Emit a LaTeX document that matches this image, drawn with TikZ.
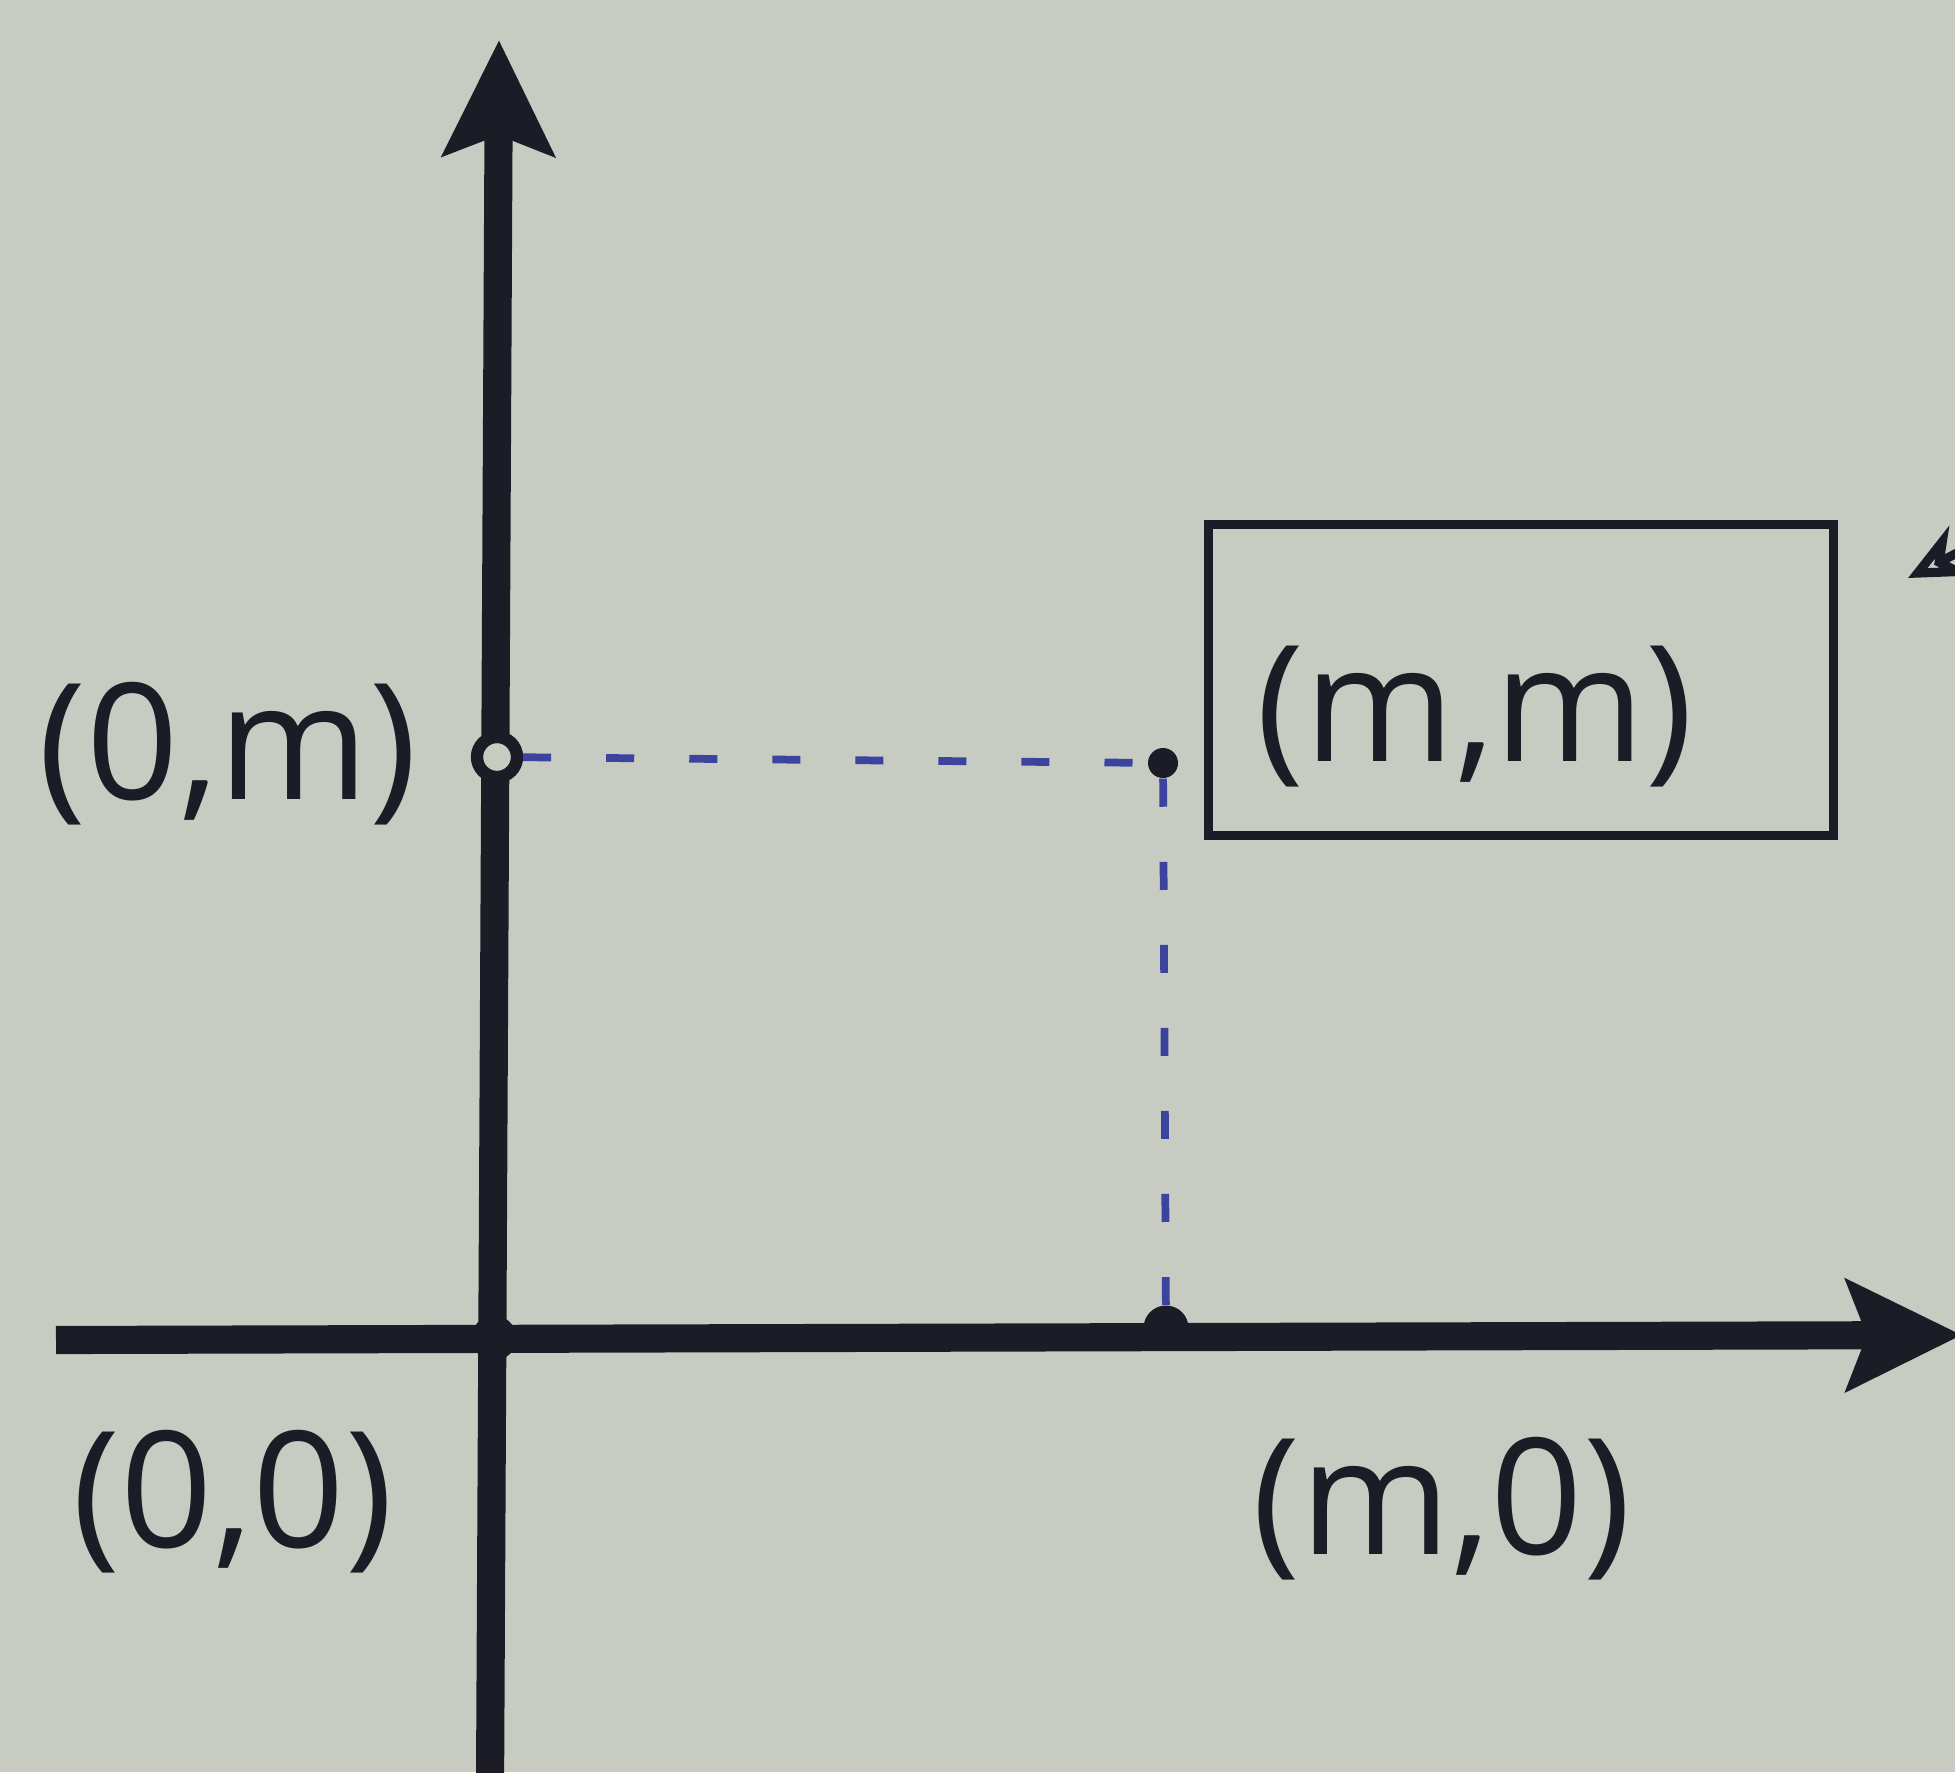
\documentclass[tikz,border=0pt]{standalone}
\usepackage{fontspec}
\setmainfont{Open Sans}
\usetikzlibrary{arrows.meta,positioning}
\definecolor{paper}{RGB}{199,203,193}
\definecolor{ink}{RGB}{28,28,38}
\definecolor{penblue}{RGB}{58,68,158}

\begin{document}
\begin{tikzpicture}[
    x=0.01cm, y=-0.01cm,
    axis/.style={ink, line width=8pt, -{Stealth[length=1.15cm, width=1.1cm, inset=0.2cm]}},
    guide/.style={penblue, line width=2.2pt, dash pattern=on 0.28cm off 0.55cm},
    dot/.style={circle, fill=ink, inner sep=0pt, minimum size=#1},
    hollow/.style={circle, draw=ink, line width=3.5pt, fill=paper, inner sep=0pt, minimum size=0.4cm},
    pointlabel/.style={text=ink, font=\fontsize{46}{54}\selectfont},
    framebox/.style={draw=ink, line width=2.6pt, minimum width=6.25cm, minimum height=3.1cm}
]
\fill[paper] (0,0) rectangle (1955,1772);
\useasboundingbox (0,0) rectangle (1955,1772);

% axes
\coordinate (xstart) at (56,1340);
\coordinate (xend)   at (1962,1335);
\coordinate (ystart) at (490,1790);
\coordinate (yend)   at (499,40);
\draw[axis] (xstart) -- (xend);
\draw[axis] (ystart) -- (yend);

% points
\node[dot=0.45cm] (origin) at (494,1338) {};
\node[dot=0.45cm] (m0)     at (1166,1328) {};
\node[dot=0.3cm]  (mm)     at (1163,763) {};
\node[hollow]     (om)     at (497,757) {};

% guides
\draw[guide] (om) -- (mm);
\draw[guide] (mm) -- (m0);

% labels
\node[pointlabel] (lbl0m) at (228,754)  {(0,m)};
\node[pointlabel] (lbl00) at (233,1502) {(0,0)};
\node[pointlabel] (lblm0) at (1442,1509) {(m,0)};
\node[pointlabel] (lblmm) at (1475,717) {(m,m)};
\node[framebox]   (mmbox) at (1521,680) {};

% pointer into the box
\coordinate (note) at (2120,470);
\coordinate (notetip) at (1908,578);
\draw[ink, line width=2.6pt, -{Stealth[length=0.6cm, width=0.55cm, open]}] (note) -- (notetip);
\end{tikzpicture}
\end{document}
